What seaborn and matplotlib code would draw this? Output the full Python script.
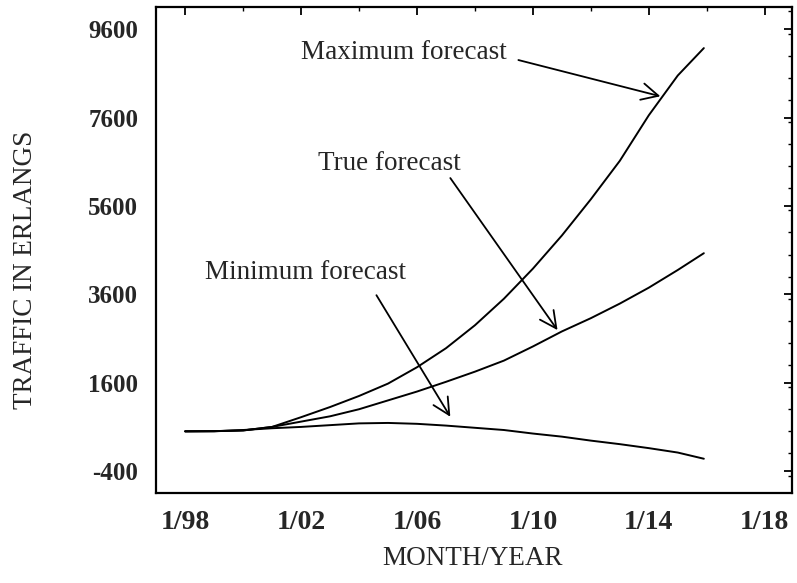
import numpy as np
import pandas as pd
import seaborn as sns
import matplotlib.pyplot as plt
from matplotlib.ticker import MultipleLocator

# --- data (decimal year, traffic in erlangs) ---
years = [1998, 1999, 2000, 2001, 2002, 2003, 2004, 2005, 2006, 2007,
         2008, 2009, 2010, 2011, 2012, 2013, 2014, 2015, 2015.9]
max_forecast = [500, 505, 520, 600, 820, 1050, 1300, 1580, 1950, 2380,
                2900, 3500, 4180, 4930, 5750, 6620, 7650, 8550, 9170]
true_forecast = [500, 505, 520, 600, 720, 840, 1000, 1200, 1400, 1620,
                 1850, 2100, 2420, 2760, 3060, 3390, 3750, 4150, 4530]
min_forecast = [500, 500, 530, 570, 600, 640, 680, 690, 670, 630,
                580, 530, 450, 380, 290, 210, 120, 20, -120]

x_ticks = [1998, 2002, 2006, 2010, 2014, 2018]
x_tick_labels = ["1/98", "1/02", "1/06", "1/10", "1/14", "1/18"]
y_ticks = [-400, 1600, 3600, 5600, 7600, 9600]

df = pd.DataFrame({
    "year": years * 3,
    "traffic": max_forecast + true_forecast + min_forecast,
    "series": ["Maximum forecast"] * len(years)
              + ["True forecast"] * len(years)
              + ["Minimum forecast"] * len(years),
})

sns.set_style("white")
plt.rcParams["font.family"] = ["Liberation Serif", "DejaVu Serif"]
plt.rcParams["axes.unicode_minus"] = False

fig = plt.figure(figsize=(7.97, 5.83), dpi=100)
ax = fig.add_axes([0.196, 0.154, 0.798, 0.834])

sns.lineplot(data=df, x="year", y="traffic", units="series", estimator=None,
             color="black", linewidth=1.4, ax=ax, legend=False)

ax.set_xlim(1997, 2018.95)
ax.set_ylim(-900, 10100)
ax.set_xticks(x_ticks)
ax.set_xticklabels(x_tick_labels)
ax.set_yticks(y_ticks)
ax.xaxis.set_minor_locator(MultipleLocator(2))
ax.yaxis.set_minor_locator(MultipleLocator(500))
ax.tick_params(which="both", direction="in", top=True, right=True, color="black")
ax.tick_params(axis="x", labelsize=20, pad=12)
ax.tick_params(axis="y", labelsize=18, pad=13)
ax.tick_params(which="major", length=6, width=1.3)
ax.tick_params(which="minor", length=3, width=1)
for lab in ax.get_xticklabels() + ax.get_yticklabels():
    lab.set_fontweight("bold")

for side in ax.spines.values():
    side.set_color("black")
    side.set_linewidth(1.6)

ax.set_xlabel("MONTH/YEAR", fontsize=19.5)
ax.set_ylabel("TRAFFIC IN ERLANGS", fontsize=19.5)
ax.xaxis.set_label_coords(0.498, -0.108)
ax.yaxis.set_label_coords(-0.186, 0.46)

# --- annotations: label text plus a separate open-headed arrow ---
arrow = dict(arrowstyle="->", color="black", lw=1.3, mutation_scale=30,
             shrinkA=0, shrinkB=0)
ax.text(2002.0, 9080, "Maximum forecast", fontsize=19.5, ha="left", va="center")
ax.annotate("", xy=(2014.4, 8080), xytext=(2009.5, 8900), arrowprops=arrow)

ax.text(2002.6, 6570, "True forecast", fontsize=19.5, ha="left", va="center")
ax.annotate("", xy=(2010.85, 2790), xytext=(2007.15, 6230), arrowprops=arrow)

ax.text(1998.7, 4100, "Minimum forecast", fontsize=19.5, ha="left", va="center")
ax.annotate("", xy=(2007.15, 830), xytext=(2004.6, 3580), arrowprops=arrow)

fig.savefig("out.png", dpi=100)
